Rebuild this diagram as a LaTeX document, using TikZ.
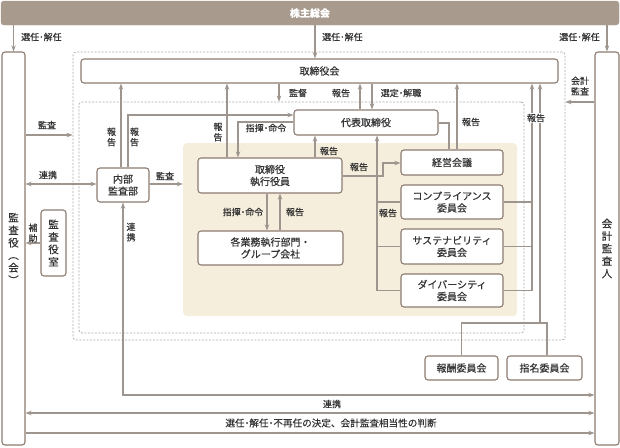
\documentclass[tikz,border=0pt]{standalone}
\usepackage{fontspec}
\setmainfont{Noto Sans CJK JP}[FakeBold=0.4]
\usetikzlibrary{arrows.meta}
\definecolor{barc}{HTML}{A99A8E}
\definecolor{edgec}{HTML}{8C7B70}
\definecolor{linec}{HTML}{9E958E}
\definecolor{beigec}{HTML}{F6EEDC}
\definecolor{dotc}{HTML}{ABABAB}
\definecolor{txtc}{HTML}{333333}
\begin{document}
\begin{tikzpicture}[x=1pt,y=-1pt,
  box/.style={draw=edgec, line width=1.1pt, rounded corners=3pt, fill=white, inner sep=0pt,
    font=\fontsize{10}{12}\selectfont, text=txtc, align=center},
  vbox/.style={box, font=\fontsize{10.5}{12.5}\selectfont},
  conn/.style={draw=linec, line width=1.1pt},
  arr/.style={conn, -{Stealth[length=6pt,width=4.5pt]}},
  darr/.style={conn, {Stealth[length=6pt,width=4.5pt]}-{Stealth[length=6pt,width=4.5pt]}},
  lbl/.style={font=\fontsize{9}{10.5}\selectfont, text=txtc, inner sep=1pt, align=center},
  dotbox/.style={draw=dotc, line width=0.8pt, dash pattern=on 2pt off 1.5pt, rounded corners=3pt, inner sep=0pt},
]
\useasboundingbox (0,0) rectangle (620,447);
% regions
\node[dotbox, minimum width=492, minimum height=288] (outer) at (319,196) {};
\node[dotbox, minimum width=445, minimum height=231] (inner) at (301.5,217.5) {};
\node[fill=beigec, rounded corners=4pt, minimum width=334, minimum height=173, inner sep=0pt] (beige) at (350,229.5) {};
% boxes
\node[fill=barc, draw=barc, rounded corners=3pt, minimum width=618, minimum height=24, inner sep=0pt,
  text=white, font=\fontsize{10}{12}\selectfont\bfseries] (bar) at (310,13) {株主総会};
\node[vbox, minimum width=23, minimum height=393] (kansa) at (13.5,248.5) {監\\査\\役\\︵\\会\\︶};
\node[vbox, minimum width=24, minimum height=393] (kaikei) at (607,248.5) {会\\計\\監\\査\\人};
\node[box, minimum width=477, minimum height=24] (board) at (319.5,71) {取締役会};
\node[box, minimum width=144, minimum height=25] (ceo) at (366,122.5) {代表取締役};
\node[box, minimum width=52, minimum height=34] (audit) at (123,185) {内部\\監査部};
\node[box, minimum width=144, minimum height=35] (exec) at (270,175.5) {取締役\\執行役員};
\node[box, minimum width=145, minimum height=34] (biz) at (270.5,248) {各業務執行部門・\\グループ会社};
\node[vbox, minimum width=25, minimum height=66] (shitsu) at (53.5,243) {監\\査\\役\\室};
\node[box, minimum width=102, minimum height=25] (keiei) at (452,162.5) {経営会議};
\node[box, minimum width=102, minimum height=34] (comp) at (452,202) {コンプライアンス\\委員会};
\node[box, minimum width=102, minimum height=35] (sust) at (452,246.5) {サステナビリティ\\委員会};
\node[box, minimum width=102, minimum height=33] (div) at (452,290.5) {ダイバーシティ\\委員会};
\node[box, minimum width=73, minimum height=24] (hoshu) at (461.5,368) {報酬委員会};
\node[box, minimum width=75, minimum height=24] (shimei) at (544.5,368) {指名委員会};
% connectors from shareholders
\draw[arr] (bar.south -| kansa.north) -- (kansa.north);
\draw[arr] (315,0 |- bar.south) -- (315,0 |- board.north);
\draw[arr] (bar.south -| kaikei.north) -- (kaikei.north);
% left side
\draw[arr] (kansa.east |- 0,135) -- (outer.west |- 0,135);
\draw[darr] (kansa.east |- 0,184) -- (audit.west |- 0,184);
\draw[arr] (shitsu.west) -- (kansa.east |- shitsu.west);
% internal audit
\draw[arr] (121,0 |- audit.north) -- (121,0 |- board.south);
\draw[arr] (128,0 |- audit.north) -- (128,115) -- (ceo.west |- 0,115);
\draw[arr] (audit.east |- 0,184) -- (beige.west |- 0,184);
\draw[darr] (audit.south) -- (audit.south |- 0,395) -- (kaikei.west |- 0,395);
% bottom lines
\draw[darr] (kansa.east |- 0,413) -- (kaikei.west |- 0,413);
\draw[arr] (kansa.east |- 0,433) -- (kaikei.west |- 0,433);
% accounting auditor audit
\draw[arr] (kaikei.west |- 0,102) -- (outer.east |- 0,102);
% exec
\draw[arr] (227,0 |- exec.north) -- (227,0 |- board.south);
\draw[arr] (ceo.west |- 0,122) -- (238,122) -- (238,0 |- exec.north);
\draw[arr] (315,0 |- exec.north) -- (315,0 |- ceo.south);
\draw[arr] (exec.east |- 0,176) -- (383,176) -- (383,163) -- (keiei.west |- 0,163);
% board / ceo
\draw[arr] (279,0 |- board.south) -- (279,0 |- inner.north);
\draw[arr] (360,0 |- ceo.north) -- (360,0 |- board.south);
\draw[arr] (372,0 |- board.south) -- (372,0 |- ceo.north);
\draw[conn] (ceo.east |- 0,123) -- (449,123) -- (449,0 |- keiei.north);
\draw[arr] (457,0 |- keiei.north) -- (457,0 |- board.south);
% committees to ceo
\draw[arr] (div.west) -- (377,0 |- div.west) -- (377,0 |- ceo.south);
\draw[conn] (comp.west) -- (377,0 |- comp.west);
\draw[conn] (sust.west) -- (377,0 |- sust.west);
% committees to board
\draw[arr] (div.east) -- (532,0 |- div.east) -- (532,0 |- board.south);
\draw[conn] (comp.east) -- (532,0 |- comp.east);
\draw[conn] (sust.east) -- (532,0 |- sust.east);
% remuneration / nomination
\draw[conn] (hoshu.north) -- (hoshu.north |- 0,323) -- (547,323) -- (547,0 |- shimei.north);
\draw[arr] (540,323) -- (540,0 |- board.south);
% exec <-> biz
\draw[arr] (267,0 |- exec.south) -- (267,0 |- biz.north);
\draw[arr] (280,0 |- biz.north) -- (280,0 |- exec.south);
% labels
\node[lbl, anchor=west] at (20,37) {選任･解任};
\node[lbl, anchor=west] at (321,37) {選任･解任};
\node[lbl, anchor=east] at (601,37) {選任･解任};
\node[lbl] at (47,125) {監査};
\node[lbl] at (48,175) {連携};
\node[lbl] at (33,233) {補\\助};
\node[lbl] at (111.5,137) {報\\告};
\node[lbl] at (134.5,137) {報\\告};
\node[lbl] at (165,176) {監査};
\node[lbl] at (131,232) {連\\携};
\node[lbl] at (580,86) {会計\\監査};
\node[lbl] at (218,132) {報\\告};
\node[lbl] at (266,128) {指揮･命令};
\node[lbl] at (329,151) {報告};
\node[lbl] at (359,167) {報告};
\node[lbl] at (243,212) {指揮･命令};
\node[lbl] at (295,212) {報告};
\node[lbl] at (298,93) {監督};
\node[lbl] at (341,93) {報告};
\node[lbl] at (401,93) {選定･解職};
\node[lbl] at (471,122) {報告};
\node[lbl] at (388,213) {報告};
\node[lbl, fill=white] at (536,118) {報告};
\node[lbl] at (332,404) {連携};
\node[lbl, font=\fontsize{9.6}{11}\selectfont] at (331,423) {選任･解任･不再任の決定、会計監査相当性の判断};
\end{tikzpicture}
\end{document}
